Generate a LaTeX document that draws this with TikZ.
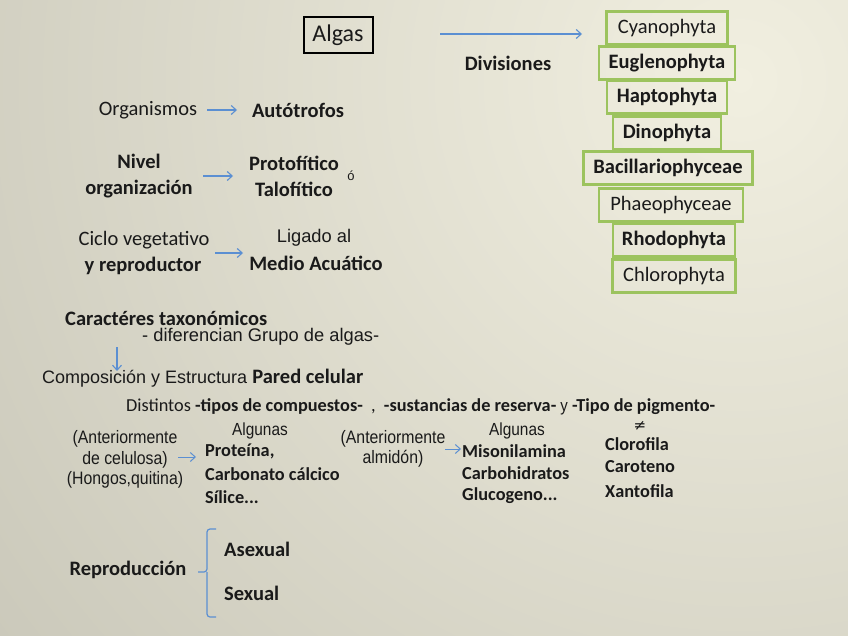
\documentclass[tikz,border=0pt]{standalone}
\usepackage{fontspec}
\setmainfont{Carlito}
\newfontfamily\arialf{Liberation Sans}
\newfontfamily\arialn[FakeStretch=0.88]{Liberation Sans}
\newfontfamily\symf{DejaVu Sans}
\usetikzlibrary{arrows.meta}
\definecolor{bgin}{HTML}{F1EFE0}
\definecolor{bgout}{HTML}{C2C0B2}
\definecolor{arrblue}{HTML}{5B8FD2}
\definecolor{divgreen}{HTML}{9CC35E}
\definecolor{txt}{HTML}{1A1A1A}
\tikzset{
  every node/.style={text=txt, inner sep=0pt},
  tx/.style={font=\fontsize{20.5}{26}\selectfont},
  txb/.style={font=\fontsize{20.5}{26}\selectfont\bfseries},
  sm/.style={font=\fontsize{18.3}{21}\selectfont},
  smb/.style={font=\fontsize{18.3}{21}\selectfont\bfseries},
  ar/.style={font=\arialf\fontsize{18.3}{21}\selectfont},
  arn/.style={font=\arialn\fontsize{18}{20.5}\selectfont},
  divbox/.style={draw=divgreen, line width=2.6pt, minimum height=33pt, font=\fontsize{20.5}{24}\selectfont},
  divboxb/.style={divbox, font=\fontsize{20.5}{24}\selectfont\bfseries},
  blarr/.style={draw=arrblue, line width=1.1pt, -{Straight Barb[length=5pt,width=9pt]}},
}
\begin{document}
\begin{tikzpicture}[x=1pt,y=-1pt]
\useasboundingbox (0,0) rectangle (848,636);
\begin{scope}
\clip (0,0) rectangle (848,636);
\fill[bgout] (0,0) rectangle (848,636);
\shade[inner color=bgin, outer color=bgout] (740,80) circle (1150);
\end{scope}

% Algas
\node[draw=black, line width=2pt, minimum width=69pt, minimum height=36pt, font=\fontsize{24}{26}\selectfont] (algas) at (338,35) {Algas};
\coordinate (a1) at (440,34);
\coordinate (a2) at (582,34);
\draw[blarr] (a1) -- (a2);
\node[txb] (divis) at (508,63) {Divisiones};

% Division boxes
\node[divbox, minimum width=121pt] (cyan) at (667,28) {Cyanophyta};
\node[divboxb, minimum width=136pt] (eugl) at (667,63) {Euglenophyta};
\node[divboxb, minimum width=120pt] (hapt) at (667,97) {Haptophyta};
\node[divboxb, minimum width=108pt] (dino) at (667,133) {Dinophyta};
\node[divboxb, minimum width=169pt] (baci) at (668,168) {Bacillariophyceae};
\node[divbox, minimum width=144pt] (phae) at (671,205) {Phaeophyceae};
\node[divboxb, minimum width=122pt] (rhod) at (674,240) {Rhodophyta};
\node[divbox, minimum width=123pt] (chlo) at (674,276) {Chlorophyta};

% Organismos
\node[tx] (org) at (148,110) {Organismos};
\node[txb] (auto) at (298,110) {Autótrofos};
\coordinate (o1) at (207,110);
\coordinate (o2) at (237,110);
\draw[blarr] (o1) -- (o2);

% Nivel organizacion
\node[txb, align=center] (nivel) at (139,176) {Nivel\\organización};
\node[txb, align=center] (proto) at (294,176) {Protofítico\\Talofítico};
\node[font=\arialf\fontsize{13}{15}\selectfont] (o) at (351,176) {ó};
\coordinate (n1) at (203,176);
\coordinate (n2) at (233,176);
\draw[blarr] (n1) -- (n2);

% Ciclo
\node[tx] (ciclo) at (144,240) {Ciclo vegetativo};
\node[txb] (yrep) at (143,266) {y reproductor};
\node[ar] (ligado) at (314,238) {Ligado al};
\node[txb] (medio) at (316,263) {Medio Acuático};
\coordinate (c1) at (215,253);
\coordinate (c2) at (243,253);
\draw[blarr] (c1) -- (c2);

% Caracteres
\node[txb, anchor=west] (carac) at (65,318) {Caractéres taxonómicos};
\node[ar, anchor=west] (dif) at (142,337) {- diferencian Grupo de algas-};
\coordinate (d1) at (117,347);
\coordinate (d2) at (117,371);
\draw[blarr] (d1) -- (d2);
\node[anchor=west] (comp) at (42,378) {\arialf\fontsize{18}{20}\selectfont Composición y Estructura \fontsize{20.5}{22}\selectfont\rmfamily\bfseries Pared celular};

% Distintos line
\node[anchor=west, sm] (dist) at (126,407) {Distintos \bfseries -tipos de compuestos- \ \mdseries, \ \bfseries -sustancias de reserva- {\mdseries\arialn\fontsize{17}{19}\selectfont y} -Tipo de pigmento-};

% Column 1
\node[arn, align=center] (ant1) at (125,459.5) {(Anteriormente\\de celulosa)\\(Hongos,quitina)};
\coordinate (k1) at (178,457);
\coordinate (k2) at (196,457);
\draw[blarr, line width=1pt] (k1) -- (k2);
\node[font=\arialn\fontsize{17.5}{19}\selectfont] (alg1) at (260,431) {Algunas};
\node[smb, anchor=west] (prot) at (205,451) {Proteína,};
\node[smb, anchor=west] (carb) at (205,474) {Carbonato cálcico};
\node[smb, anchor=west] (sil) at (205,497) {Sílice...};

% Column 2
\node[arn, align=center] (ant2) at (393,449) {(Anteriormente\\almidón)};
\coordinate (m1) at (445,449);
\coordinate (m2) at (461,449);
\draw[blarr, line width=1pt] (m1) -- (m2);
\node[font=\arialn\fontsize{17.5}{19}\selectfont] (alg2) at (517,431) {Algunas};
\node[smb, anchor=west] (miso) at (462,451) {Misonilamina};
\node[smb, anchor=west] (carbh) at (462,473) {Carbohidratos};
\node[smb, anchor=west] (gluc) at (462,496) {Glucogeno...};

% Column 3
\node[font=\symf\fontsize{15}{17}\selectfont] (neq) at (640,426) {≠};
\node[smb, anchor=west] (clor) at (605,444) {Clorofila};
\node[smb, anchor=west] (caro) at (605,467) {Caroteno};
\node[smb, anchor=west] (xant) at (605,491) {Xantofila};

% Reproduccion
\node[txb] (repro) at (128,570) {Reproducción};
\node[txb, anchor=west] (asex) at (224,549) {Asexual};
\node[txb, anchor=west] (sex) at (224,593) {Sexual};
\coordinate (bt) at (216,529);
\coordinate (bb) at (216,617);
\coordinate (bm) at (198,572);
\draw[arrblue, line width=1.2pt, rounded corners=3pt] (bt) -- (207,529) -- (207,572) -- (bm);
\draw[arrblue, line width=1.2pt, rounded corners=3pt] (bb) -- (207,617) -- (207,572);
\end{tikzpicture}
\end{document}
